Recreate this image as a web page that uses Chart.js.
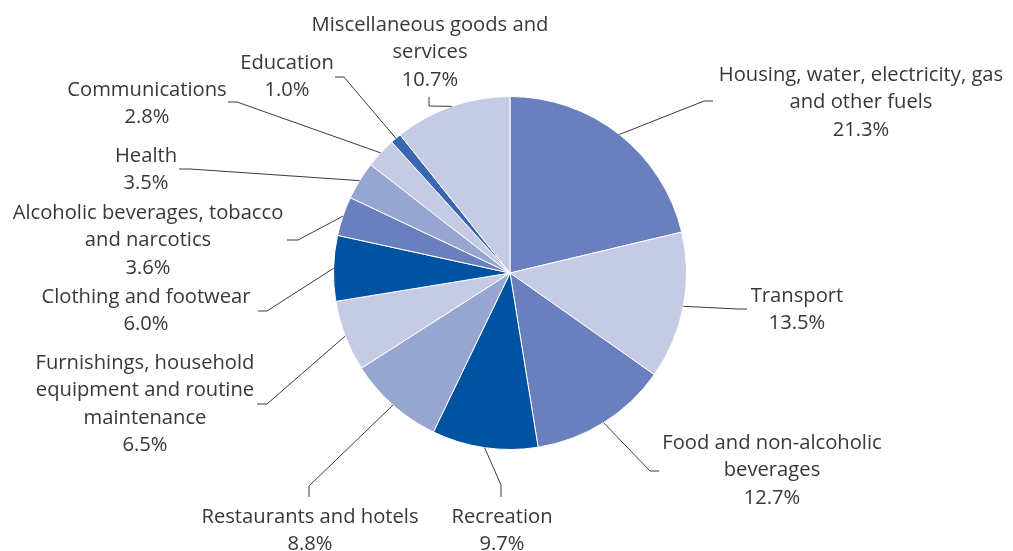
<!DOCTYPE html>
<html>
<head>
<meta charset="utf-8">
<script src="https://cdn.jsdelivr.net/npm/chart.js@4"></script>
<style>
  html, body { margin: 0; padding: 0; background: #fff; }
  #wrap { width: 1013px; height: 551px; }
</style>
</head>
<body>
<div id="wrap"><canvas id="chart"></canvas></div>
<script>
const categories = [
  "Housing, water, electricity, gas and other fuels",
  "Transport",
  "Food and non-alcoholic beverages",
  "Recreation",
  "Restaurants and hotels",
  "Furnishings, household equipment and routine maintenance",
  "Clothing and footwear",
  "Alcoholic beverages, tobacco and narcotics",
  "Health",
  "Communications",
  "Education",
  "Miscellaneous goods and services"
];
const shares = [21.3, 13.5, 12.7, 9.7, 8.8, 6.5, 6.0, 3.6, 3.5, 2.8, 1.0, 10.7];
const labelLines = [
  ["Housing, water, electricity, gas", "and other fuels"],
  ["Transport"],
  ["Food and non-alcoholic", "beverages"],
  ["Recreation"],
  ["Restaurants and hotels"],
  ["Furnishings, household", "equipment and routine", "maintenance"],
  ["Clothing and footwear"],
  ["Alcoholic beverages, tobacco", "and narcotics"],
  ["Health"],
  ["Communications"],
  ["Education"],
  ["Miscellaneous goods and", "services"]
];

const MID = "#6a7fbd", LIGHT = "#c5cae5", DARK = "#0053a0", SOFT = "#97a5d1";
const sliceColors = [MID, LIGHT, MID, DARK, SOFT, LIGHT, DARK, MID, SOFT, LIGHT, "#3a67b1", LIGHT];

// where each callout text sits and how its leader line bends
// text: [centre x, first line y]; bend/end: leader line points after leaving the slice
const callouts = [
  { text: [861, 75],  bend: [704, 101], end: [713, 101] },
  { text: [797, 296], bend: [738, 309], end: [747, 309] },
  { text: [772, 443], bend: [650, 471], end: [659, 471] },
  { text: [502, 517], bend: [501, 485], end: [501, 497] },
  { text: [310, 517], bend: [309, 486], end: [309, 497] },
  { text: [145, 363], bend: [267, 404], end: [257, 404] },
  { text: [146, 297], bend: [267, 311], end: [258, 311] },
  { text: [148, 213], bend: [298, 240], end: [287, 240] },
  { text: [146, 156], bend: [190, 169], end: [179, 169] },
  { text: [147, 90],  bend: [237, 102], end: [228, 102] },
  { text: [287, 63],  bend: [344, 77],  end: [335, 77] },
  { text: [430, 25],  bend: [429, 106], end: [429, 97] }
];

const LINE_H = 27.5;

const calloutPlugin = {
  id: "callouts",
  afterDatasetsDraw(chart) {
    const ctx = chart.ctx;
    const arcs = chart.getDatasetMeta(0).data;
    ctx.save();
    ctx.strokeStyle = "#3a3a3a";
    ctx.lineWidth = 1;
    arcs.forEach((arc, i) => {
      const p = arc.getProps(["x", "y", "startAngle", "endAngle", "outerRadius"], true);
      const mid = (p.startAngle + p.endAngle) / 2;
      const sx = p.x + Math.cos(mid) * p.outerRadius;
      const sy = p.y + Math.sin(mid) * p.outerRadius;
      const c = callouts[i];
      ctx.beginPath();
      ctx.moveTo(sx, sy);
      ctx.lineTo(c.bend[0], c.bend[1]);
      ctx.lineTo(c.end[0], c.end[1]);
      ctx.stroke();

      const lines = labelLines[i].concat([shares[i].toFixed(1) + "%"]);
      ctx.fillStyle = "#383838";
      ctx.font = "20.2px 'Open Sans'";
      ctx.textAlign = "center";
      ctx.textBaseline = "middle";
      lines.forEach((t, k) => ctx.fillText(t, c.text[0], c.text[1] + k * LINE_H));
    });
    ctx.restore();
  }
};

new Chart(document.getElementById("chart"), {
  type: "pie",
  data: {
    labels: categories,
    datasets: [{
      data: shares,
      backgroundColor: sliceColors,
      borderColor: "#ffffff",
      borderWidth: 1
    }]
  },
  options: {
    responsive: true,
    maintainAspectRatio: false,
    animation: false,
    layout: { padding: { left: 7, right: 0, top: 96, bottom: 101 } },
    plugins: {
      legend: { display: false },
      tooltip: { enabled: false }
    }
  },
  plugins: [calloutPlugin]
});
</script>
</body>
</html>
